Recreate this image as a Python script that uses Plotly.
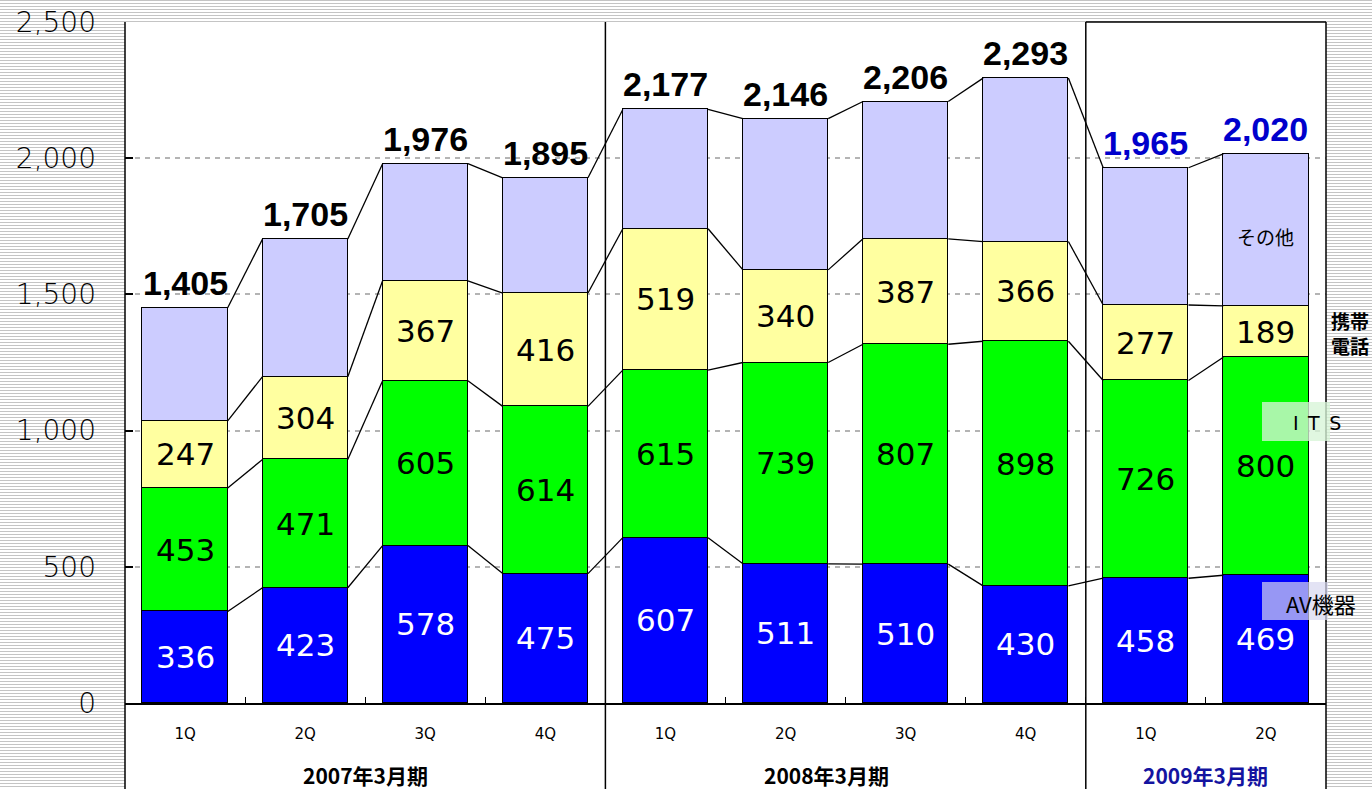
import plotly.graph_objects as go

# ---------------- data ----------------
quarters = ["1Q", "2Q", "3Q", "4Q", "1Q", "2Q", "3Q", "4Q", "1Q", "2Q"]
periods = ["2007年3月期", "2008年3月期", "2009年3月期"]
period_centers = [1.5, 5.34, 8.5]
series_names = ["AV機器", "ITS", "携帯電話", "その他"]
av = [336, 423, 578, 475, 607, 511, 510, 430, 458, 469]
its = [453, 471, 605, 614, 615, 739, 807, 898, 726, 800]
mobile = [247, 304, 367, 416, 519, 340, 387, 366, 277, 189]
other = [415, 505, 430, 423, 438, 555, 504, 600, 504, 558]   # unlabeled
total_labels = ["1,405", "1,705", "1,976", "1,895", "2,177",
                "2,146", "2,206", "2,293", "1,965", "2,020"]
y_ticks = [0, 500, 1000, 1500, 2000, 2500]

# ---------------- styling ----------------
W, H = 1372, 789
ML, MR, MT, MB = 125, 46, 22, 86
PW, PH = W - ML - MR, H - MT - MB
colors = ["#0000FF", "#00FF00", "#FFFFA0", "#CCCCFF"]
text_colors = ["white", "black", "black", None]
BW = 0.71
HW = BW / 2
FONT_NUM = "DejaVu Sans"
FONT_BOLD = "Liberation Sans"
FONT_JP = "Noto Sans CJK JP"

def px_to_paper_x(px):
    return (px - ML) / PW

def px_to_paper_y(py):
    return (MT + PH - py) / PH

xs = list(range(len(quarters)))
series = [av, its, mobile, other]

fig = go.Figure()

for name, vals, col in zip(series_names, series, colors):
    fig.add_trace(go.Bar(
        x=xs, y=vals, name=name, width=BW,
        marker=dict(color=col, line=dict(color="black", width=1)),
        hoverinfo="skip", showlegend=False,
    ))

# connecting lines between stacked segment tops
cum = [0] * len(xs)
levels = []
for vals in series:
    cum = [c + v for c, v in zip(cum, vals)]
    levels.append(list(cum))

lx, ly = [], []
for lev in levels:
    for i in range(len(xs) - 1):
        lx += [xs[i] + HW, xs[i + 1] - HW, None]
        ly += [lev[i], lev[i + 1], None]
fig.add_trace(go.Scatter(x=lx, y=ly, mode="lines",
                         line=dict(color="black", width=1.3),
                         hoverinfo="skip", showlegend=False))

annotations = []
# segment values
base = [0] * len(xs)
for s_idx, vals in enumerate(series):
    if text_colors[s_idx] is not None:
        for i, v in enumerate(vals):
            annotations.append(dict(
                x=xs[i], y=base[i] + v / 2, text=str(v), showarrow=False,
                font=dict(family=FONT_NUM, size=31, color=text_colors[s_idx]),
                xanchor="center", yanchor="middle"))
    base = [b + v for b, v in zip(base, vals)]

# totals
for i, t in enumerate(total_labels):
    annotations.append(dict(
        x=xs[i], y=levels[-1][i], text="<b>%s</b>" % t, showarrow=False,
        font=dict(family=FONT_BOLD, size=34, color="#0000CC" if i >= 8 else "black"),
        xanchor="center", yanchor="bottom", yshift=4))

# period labels
for p, cx in zip(periods, period_centers):
    annotations.append(dict(
        x=cx, y=px_to_paper_y(775), xref="x", yref="paper", text="<b>%s</b>" % p,
        showarrow=False, xanchor="center", yanchor="middle",
        font=dict(family=FONT_JP, size=21,
                  color="#1414A0" if p.startswith("2009") else "black")))

# series labels on the right
annotations.append(dict(x=xs[-1], y=1711, text=series_names[3], showarrow=False,
                        font=dict(family=FONT_JP, size=19, color="black"),
                        xanchor="center", yanchor="middle"))
annotations.append(dict(x=px_to_paper_x(1350), y=px_to_paper_y(333), xref="paper", yref="paper",
                        text="<b>携帯<br>電話</b>", showarrow=False, align="left",
                        font=dict(family=FONT_JP, size=19, color="black"),
                        xanchor="center", yanchor="middle"))
annotations.append(dict(x=px_to_paper_x(1317), y=px_to_paper_y(423), xref="paper", yref="paper",
                        text="I\u2002T\u2002S", showarrow=False,
                        font=dict(family=FONT_NUM, size=19, color="black"),
                        xanchor="center", yanchor="middle"))
annotations.append(dict(x=px_to_paper_x(1321), y=px_to_paper_y(603), xref="paper", yref="paper",
                        text=series_names[0], showarrow=False,
                        font=dict(family=FONT_JP, size=22, color="black"),
                        xanchor="center", yanchor="middle"))

# ---------------- shapes ----------------
shapes = []
# striped background
x0p, x1p = px_to_paper_x(-2), px_to_paper_x(W + 2)
parts = []
for py in range(0, H, 3):
    yp = px_to_paper_y(py + 0.5)
    parts.append("M%.5f,%.5f L%.5f,%.5f" % (x0p, yp, x1p, yp))
shapes.append(dict(type="path", path=" ".join(parts), xref="paper", yref="paper",
                   line=dict(color="#c4c4c4", width=1), layer="below"))
yb = px_to_paper_y(H + 2)
shapes.append(dict(type="rect", xref="paper", yref="paper", x0=0, x1=1, y0=yb, y1=1,
                   fillcolor="white", line=dict(width=0), layer="below"))
# frame / separators
for xp in [0, 0.4, 0.8, 1.0]:
    shapes.append(dict(type="line", xref="paper", yref="paper", x0=xp, x1=xp, y0=yb, y1=1,
                       line=dict(color="black", width=1.5)))
shapes.append(dict(type="line", xref="paper", yref="paper", x0=0.8, x1=1.0, y0=1, y1=1,
                   line=dict(color="black", width=1.5)))
# highlight boxes for labels
shapes.append(dict(type="rect", xref="paper", yref="paper",
                   x0=px_to_paper_x(1262), x1=px_to_paper_x(1330),
                   y0=px_to_paper_y(441), y1=px_to_paper_y(402),
                   fillcolor="rgba(215,245,215,0.78)", line=dict(width=0), layer="above"))
shapes.append(dict(type="rect", xref="paper", yref="paper",
                   x0=px_to_paper_x(1262), x1=px_to_paper_x(1328),
                   y0=px_to_paper_y(620), y1=px_to_paper_y(582),
                   fillcolor="rgba(215,215,240,0.7)", line=dict(width=0), layer="above"))

fig.update_layout(
    width=W, height=H, autosize=False,
    margin=dict(l=ML, r=MR, t=MT, b=MB, pad=0, autoexpand=False),
    barmode="stack", bargap=0,
    paper_bgcolor="white", plot_bgcolor="white",
    shapes=shapes, annotations=annotations,
    xaxis=dict(range=[-0.5, 9.5], tickmode="array", tickvals=xs, ticktext=quarters,
               ticks="", showgrid=False, zeroline=False, automargin=False,
               showline=True, linecolor="black", linewidth=1.5,
               tickfont=dict(family=FONT_NUM, size=15, color="black"),
               ticklabelstandoff=16,
               minor=dict(tickmode="array", tickvals=[i + 0.5 for i in xs[:-1]],
                          ticks="inside", ticklen=6, tickcolor="black", tickwidth=1,
                          showgrid=False)),
    yaxis=dict(range=[0, 2500], tickmode="array", tickvals=y_ticks,
               ticktext=["{:,}".format(v) for v in y_ticks],
               ticks="inside", ticklen=8, tickcolor="black", tickwidth=1.5,
               showgrid=True, gridcolor="#b4b4b4", gridwidth=1.5, griddash="5px,5px",
               zeroline=False, showline=False, automargin=False,
               tickfont=dict(family=FONT_NUM, size=28, color="black", weight=200),
               ticklabelstandoff=28),
)

fig.write_html("out.html", config={"displayModeBar": False},
               post_script="document.body.style.margin='0';")
